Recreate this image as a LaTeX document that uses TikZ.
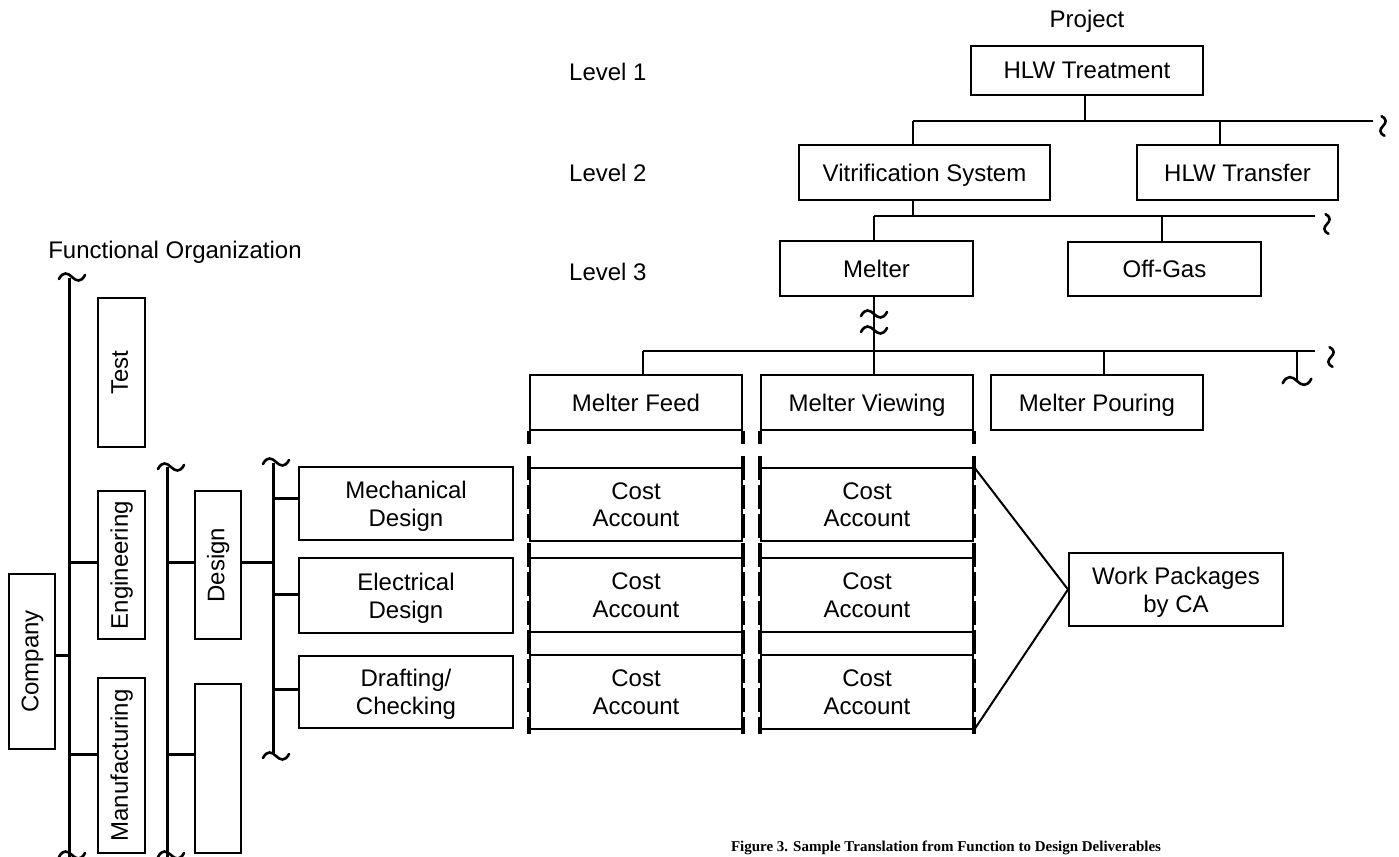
\documentclass[tikz,border=0pt]{standalone}
\usepackage{fontspec}
\setmainfont{Liberation Sans}
\newfontfamily\capfont{Liberation Serif}
\begin{document}
\begin{tikzpicture}[x=1pt,y=-1pt,
  every node/.style={font=\fontsize{24}{27.6}\selectfont, inner sep=0pt},
  box/.style={draw, line width=2pt, align=center},
  bx/.style 2 args={box, text depth=0pt, minimum width=#1pt, minimum height=#2pt},
  rbx/.style 2 args={box, rotate=90, text height=17.5pt, text depth=5pt, minimum width=#2pt, minimum height=#1pt},
  conn/.style={line width=2pt},
  brk/.style={line width=3pt},
  dsh/.style={line width=3.5pt},
  tld/.pic={\draw[line width=2.6pt, line cap=round] (-13,2) .. controls (-9,-6) and (-4,-4) .. (0,0) .. controls (4,4) and (9,6) .. (13,-2);}
  ]
\useasboundingbox (0,0) rectangle (1399,856);

% ---------------- Project tree ----------------
\node (proj) at (1087,21) {Project};
\node[anchor=west] (lv1) at (569,72) {Level 1};
\node[anchor=west] (lv2) at (569,173) {Level 2};
\node[anchor=west] (lv3) at (569,272) {Level 3};

\node[bx={232}{49}] (hlw) at (1087,70.5) {HLW Treatment};
\node[bx={251}{55}] (vit) at (924.5,172.5) {Vitrification System};
\node[bx={201}{55}] (hlwt) at (1237.5,172.5) {HLW Transfer};
\node[bx={193}{55}] (melt) at (876.5,268.5) {Melter};
\node[bx={193}{54}] (offg) at (1164.5,269) {Off-Gas};
\node[bx={212}{55}] (feed) at (636,402.5) {Melter Feed};
\node[bx={212}{55}] (view) at (867,402.5) {Melter Viewing};
\node[bx={212}{55}] (pour) at (1097,402.5) {Melter Pouring};

% level 2 bus
\coordinate (j1) at (1085,121);
\coordinate (l2a) at (913,121);
\coordinate (l2b) at (1373,121);
\coordinate (l2c) at (1220,121);
\draw[conn] (j1 |- hlw.south) -- (j1);
\draw[conn] (l2a) -- (l2b);
\draw[conn] (l2a) -- (l2a |- vit.north);
\draw[conn] (l2c) -- (l2c |- hlwt.north);
\pic[rotate=90, scale=0.75] at (1383,126) {tld};

% level 3 bus
\coordinate (l3a) at (874,216);
\coordinate (l3b) at (1315,216);
\coordinate (l3c) at (1162,216);
\coordinate (j2) at (913,216);
\draw[conn] (j2 |- vit.south) -- (j2);
\draw[conn] (l3a) -- (l3b);
\draw[conn] (l3a) -- (l3a |- melt.north);
\draw[conn] (l3c) -- (l3c |- offg.north);
\pic[rotate=90, scale=0.75] at (1327,224) {tld};

% level 4 bus
\coordinate (m1) at (874,296);
\coordinate (l4a) at (643,351);
\coordinate (l4b) at (1315,351);
\coordinate (l4p) at (1104,351);
\coordinate (l4x) at (1297,351);
\coordinate (l4xe) at (1297,380);
\draw[conn] (m1 |- melt.south) -- (m1 |- view.north);
\pic at (874,314) {tld};
\pic at (874,330) {tld};
\draw[conn] (l4a) -- (l4b);
\draw[conn] (l4a) -- (l4a |- feed.north);
\draw[conn] (l4p) -- (l4p |- pour.north);
\draw[conn] (l4x) -- (l4xe);
\pic[scale=1.1] at (1297,381) {tld};
\pic[rotate=90, scale=0.75] at (1331,357) {tld};

% cost accounts
\foreach \nm/\cx in {fa/636, va/867}{
  \node[bx={212}{73}] (\nm1) at (\cx,504.5) {Cost\\Account};
  \node[bx={212}{74}] (\nm2) at (\cx,595) {Cost\\Account};
  \node[bx={212}{74}] (\nm3) at (\cx,692) {Cost\\Account};
}
\foreach \n/\a in {feed/south west, feed/south east, view/south west, view/south east}{
  \draw[dsh] (\n.\a) -- ++(0,13);
  \draw[dsh, dash pattern=on 24pt off 5pt] (\n.\a) ++(0,25) -- ++(0,278);
}

\node[bx={214}{73}] (wp) at (1176,589.5) {Work Packages\\by CA};
\draw[conn] (va1.north east) -- (wp.west) -- (va3.south east);

% ---------------- Functional organization ----------------
\node (fo) at (175,252) {Functional Organization};

\node[rbx={46}{175}] (comp) at (32,661.5) {Company};
\node[rbx={47}{149}] (test) at (121.5,372.5) {Test};
\node[rbx={47}{148}] (eng) at (121.5,565) {Engineering};
\node[rbx={47}{175}] (manu) at (121.5,765.5) {Manufacturing};
\node[rbx={46}{148}] (des) at (218,565) {Design};
\node[rbx={46}{169}] (blank) at (218,768.5) {};

\node[bx={214}{73}] (mech) at (406,503.5) {Mechanical\\Design};
\node[bx={214}{75}] (elec) at (406,595.5) {Electrical\\Design};
\node[bx={214}{72}] (draft) at (406,692) {Drafting/\\Checking};

% bracket 1
\coordinate (b1t) at (69,278);
\coordinate (b1b) at (69,858);
\draw[brk] (b1t) -- (b1b);
\pic at (72,277) {tld};
\pic at (72,855) {tld};
\coordinate (b1c) at (69,655);
\coordinate (b1e) at (69,562);
\coordinate (b1m) at (69,754);
\draw[brk] (comp.south |- b1c) -- (b1c);
\draw[brk] (b1e) -- (b1e -| eng.north);
\draw[brk] (b1m) -- (b1m -| manu.north);

% bracket 2
\coordinate (b2t) at (167,467);
\coordinate (b2b) at (167,858);
\draw[brk] (b2t) -- (b2b);
\pic at (171,467) {tld};
\pic at (171,855) {tld};
\coordinate (b2e) at (167,562);
\coordinate (b2m) at (167,754);
\draw[brk] (b2e) -- (b2e -| des.north);
\draw[brk] (b2m) -- (b2m -| blank.north);

% bracket 3
\coordinate (b3t) at (273,463);
\coordinate (b3b) at (273,753);
\draw[brk] (b3t) -- (b3b);
\pic at (276,462) {tld};
\pic at (276,756) {tld};
\coordinate (b3d) at (273,562);
\draw[brk] (des.south |- b3d) -- (b3d);
\coordinate (b3a) at (273,498);
\coordinate (b3e) at (273,594);
\coordinate (b3f) at (273,689);
\draw[brk] (b3a) -- (b3a -| mech.west);
\draw[brk] (b3e) -- (b3e -| elec.west);
\draw[brk] (b3f) -- (b3f -| draft.west);

% caption
\node[font=\capfont\bfseries\fontsize{15}{17}\selectfont, anchor=base] (cap) at (946,851) {Figure 3. Sample Translation from Function to Design Deliverables};
\end{tikzpicture}
\end{document}
